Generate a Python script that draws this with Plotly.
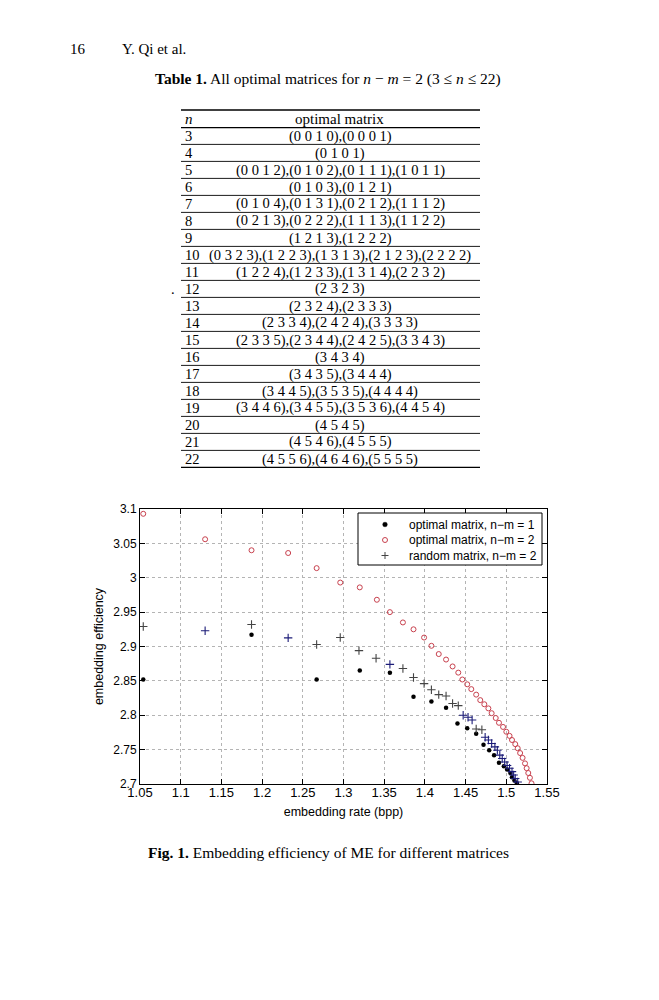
"""Page 16 of Qi et al.: Table 1 (optimal matrices, n-m=2) and Fig. 1
(embedding efficiency vs embedding rate) rebuilt with Plotly."""
import plotly.graph_objects as go

W, H = 659, 1000

# --- table data ---
TABLE_N = [str(n) for n in range(3, 23)]
TABLE_MATRIX = [
    "(0 0 1 0),(0 0 0 1)",
    "(0 1 0 1)",
    "(0 0 1 2),(0 1 0 2),(0 1 1 1),(1 0 1 1)",
    "(0 1 0 3),(0 1 2 1)",
    "(0 1 0 4),(0 1 3 1),(0 2 1 2),(1 1 1 2)",
    "(0 2 1 3),(0 2 2 2),(1 1 1 3),(1 1 2 2)",
    "(1 2 1 3),(1 2 2 2)",
    "(0 3 2 3),(1 2 2 3),(1 3 1 3),(2 1 2 3),(2 2 2 2)",
    "(1 2 2 4),(1 2 3 3),(1 3 1 4),(2 2 3 2)",
    "(2 3 2 3)",
    "(2 3 2 4),(2 3 3 3)",
    "(2 3 3 4),(2 4 2 4),(3 3 3 3)",
    "(2 3 3 5),(2 3 4 4),(2 4 2 5),(3 3 4 3)",
    "(3 4 3 4)",
    "(3 4 3 5),(3 4 4 4)",
    "(3 4 4 5),(3 5 3 5),(4 4 4 4)",
    "(3 4 4 6),(3 4 5 5),(3 5 3 6),(4 4 5 4)",
    "(4 5 4 5)",
    "(4 5 4 6),(4 5 5 5)",
    "(4 5 5 6),(4 6 4 6),(5 5 5 5)",
]

# --- figure data ---
opt1_rate = [1.054, 1.187, 1.267, 1.320, 1.357, 1.386, 1.408, 1.426, 1.440,
             1.452, 1.463, 1.472, 1.479, 1.485, 1.491, 1.497, 1.501, 1.505,
             1.507, 1.510, 1.513]
opt1_eff = [2.852, 2.917, 2.852, 2.865, 2.862, 2.827, 2.820, 2.811, 2.788,
            2.781, 2.773, 2.757, 2.749, 2.742, 2.731, 2.726, 2.721, 2.716,
            2.710, 2.705, 2.701]

opt2_rate = [1.054, 1.130, 1.187, 1.232, 1.267, 1.296, 1.320, 1.341, 1.357,
             1.373, 1.386, 1.399, 1.408, 1.417, 1.426, 1.434, 1.441, 1.446,
             1.452, 1.457, 1.463, 1.468, 1.473, 1.478, 1.482, 1.487, 1.491,
             1.496, 1.500, 1.504, 1.507, 1.511, 1.514, 1.517, 1.520, 1.523,
             1.525, 1.527, 1.529, 1.531]
opt2_eff = [3.093, 3.056, 3.040, 3.036, 3.014, 2.993, 2.986, 2.968, 2.950,
            2.935, 2.925, 2.913, 2.901, 2.889, 2.881, 2.871, 2.862, 2.852,
            2.845, 2.838, 2.830, 2.822, 2.816, 2.810, 2.803, 2.796, 2.789,
            2.783, 2.776, 2.770, 2.764, 2.758, 2.752, 2.745, 2.738, 2.730,
            2.723, 2.716, 2.709, 2.701]

# random matrices, n-m=2 (grey marks)
rand_rate = [1.054, 1.187, 1.267, 1.296, 1.319, 1.340, 1.373, 1.386, 1.399,
             1.408, 1.417, 1.426, 1.434, 1.441, 1.463, 1.470]
rand_eff = [2.929, 2.932, 2.903, 2.913, 2.894, 2.883, 2.868, 2.855, 2.846,
            2.837, 2.830, 2.828, 2.817, 2.814, 2.780, 2.779]
# random matrices, n-m=2 (marks that print navy)
rand_b_rate = [1.130, 1.232, 1.357, 1.447, 1.453, 1.458, 1.474, 1.478, 1.482,
               1.486, 1.489, 1.492, 1.495, 1.498, 1.501, 1.504, 1.507, 1.509,
               1.511, 1.514]
rand_b_eff = [2.923, 2.9125, 2.874, 2.800, 2.797, 2.793, 2.768, 2.764, 2.759,
              2.754, 2.749, 2.742, 2.737, 2.732, 2.727, 2.723, 2.718, 2.713,
              2.708, 2.703]

LEGEND_TEXT = ["optimal matrix, n\u2212m = 1", "optimal matrix, n\u2212m = 2",
               "random matrix, n\u2212m = 2"]

x_ticks = [1.05, 1.1, 1.15, 1.2, 1.25, 1.3, 1.35, 1.4, 1.45, 1.5, 1.55]
x_tick_text = ["1.05", "1.1", "1.15", "1.2", "1.25", "1.3", "1.35", "1.4",
               "1.45", "1.5", "1.55"]
y_ticks = [2.7, 2.75, 2.8, 2.85, 2.9, 2.95, 3.0, 3.05, 3.1]
y_tick_text = ["2.7", "2.75", "2.8", "2.85", "2.9", "2.95", "3", "3.05", "3.1"]

RED = "#c8414e"
GREY = "#444444"
NAVY = "#1c1c78"


def px(x):
    return x / W


def py(y):
    return 1 - y / H


SERIF = "Liberation Serif"
SANS = "Liberation Sans"

fig = go.Figure()
fig.add_trace(go.Scatter(x=opt1_rate, y=opt1_eff, mode="markers", name=LEGEND_TEXT[0],
                         marker=dict(symbol="circle", size=4.5, color="black")))
fig.add_trace(go.Scatter(x=opt2_rate, y=opt2_eff, mode="markers", name=LEGEND_TEXT[1],
                         marker=dict(symbol="circle-open", size=5, color=RED,
                                     line=dict(width=1))))
fig.add_trace(go.Scatter(x=rand_rate, y=rand_eff, mode="markers", name=LEGEND_TEXT[2],
                         marker=dict(symbol="cross-thin-open", size=6, color=GREY,
                                     line=dict(width=1.1, color=GREY))))
fig.add_trace(go.Scatter(x=rand_b_rate, y=rand_b_eff, mode="markers", name=LEGEND_TEXT[2],
                         marker=dict(symbol="cross-thin-open", size=6, color=NAVY,
                                     line=dict(width=1.1, color=NAVY))))

axis_common = dict(showline=True, linecolor="black", linewidth=1, mirror="ticks",
                   ticks="inside", ticklen=5, tickcolor="black", automargin=False,
                   showgrid=True, gridcolor="#b4b4b4", griddash="dot", gridwidth=1,
                   zeroline=False)
fig.update_xaxes(range=[1.05, 1.55], tickvals=x_ticks, ticktext=x_tick_text,
                 domain=[px(140), px(547)], ticklabelstandoff=-4,
                 tickfont=dict(family=SANS, size=13, color="black"),
                 title=dict(text="embedding rate (bpp)", standoff=8,
                            font=dict(family=SANS, size=12.5, color="black")),
                 **axis_common)
fig.update_yaxes(range=[2.7, 3.1], tickvals=y_ticks, ticktext=y_tick_text,
                 domain=[py(784), py(509)],
                 tickfont=dict(family=SANS, size=12, color="black"),
                 title=dict(text="embedding efficiency", standoff=6,
                            font=dict(family=SANS, size=12.5, color="black")),
                 **axis_common)

shapes = []
annotations = []


def text(x, y, s, size=15, anchor="left", family=SERIF):
    annotations.append(dict(x=px(x), y=py(y), text=s, xanchor=anchor, yanchor="middle",
                            xref="paper", yref="paper", showarrow=False,
                            font=dict(family=family, size=size, color="black")))


def hline(y, x0, x1, width):
    shapes.append(dict(type="line", xref="paper", yref="paper", x0=px(x0), x1=px(x1),
                       y0=py(y), y1=py(y), line=dict(color="black", width=width)))


# page header
text(68, 49, "16")
text(120, 49, "Y. Qi et al.")
# table caption
text(328, 79, "<b>Table 1.</b> All optimal matrices for <i>n</i> \u2212 <i>m</i> = 2"
              " (3 \u2264 <i>n</i> \u2264 22)", size=15.5, anchor="center")

# table rules and cells
TL, TR = 181, 480
row_top = 136.0
row_h = 17.0
hline(110, TL, TR, 1.3)
hline(127.7, TL, TR, 1.3)
text(183, 118.5, "<i>n</i>")
text(339, 118.5, "optimal matrix", anchor="center")
for i, (n, mat) in enumerate(zip(TABLE_N, TABLE_MATRIX)):
    yc = row_top + row_h * i
    text(183, yc, n, size=14.5)
    text(340, yc, mat, size=14.5, anchor="center")
    hline(yc + 8.4, TL, TR, 1.4 if i == len(TABLE_N) - 1 else 0.9)
text(173, row_top + row_h * 9, ".", size=14.5, anchor="center")

# figure caption
text(328, 852, "<b>Fig. 1.</b> Embedding efficiency of ME for different matrices",
     size=15.5, anchor="center")

# legend box (drawn by hand so the row spacing matches the MATLAB legend)
LX0, LX1, LY0, LY1 = 358, 542, 513, 565
shapes.append(dict(type="rect", xref="paper", yref="paper",
                   x0=px(LX0), x1=px(LX1), y0=py(LY0), y1=py(LY1),
                   fillcolor="white", line=dict(color="black", width=1)))
ly = [524.5, 540, 555.5]
gx = 385
shapes.append(dict(type="circle", xref="paper", yref="paper",
                   x0=px(gx - 2.3), x1=px(gx + 2.3), y0=py(ly[0] - 2.3), y1=py(ly[0] + 2.3),
                   fillcolor="black", line=dict(color="black", width=0.5)))
shapes.append(dict(type="circle", xref="paper", yref="paper",
                   x0=px(gx - 2.5), x1=px(gx + 2.5), y0=py(ly[1] - 2.5), y1=py(ly[1] + 2.5),
                   fillcolor="rgba(0,0,0,0)", line=dict(color=RED, width=1)))
shapes.append(dict(type="line", xref="paper", yref="paper",
                   x0=px(gx - 3.5), x1=px(gx + 3.5), y0=py(ly[2]), y1=py(ly[2]),
                   line=dict(color=GREY, width=1)))
shapes.append(dict(type="line", xref="paper", yref="paper",
                   x0=px(gx), x1=px(gx), y0=py(ly[2] - 3.5), y1=py(ly[2] + 3.5),
                   line=dict(color=GREY, width=1)))
for yy, s in zip(ly, LEGEND_TEXT):
    text(407, yy, s, size=12, family=SANS)

fig.update_layout(
    width=W, height=H, margin=dict(l=0, r=0, t=0, b=0, pad=0),
    paper_bgcolor="white", plot_bgcolor="white",
    shapes=shapes, annotations=annotations,
    showlegend=False,
)

# the page body keeps its default 8px margin otherwise
fig.write_html("out.html", config={"displayModeBar": False},
               post_script="document.body.style.margin='0';")
